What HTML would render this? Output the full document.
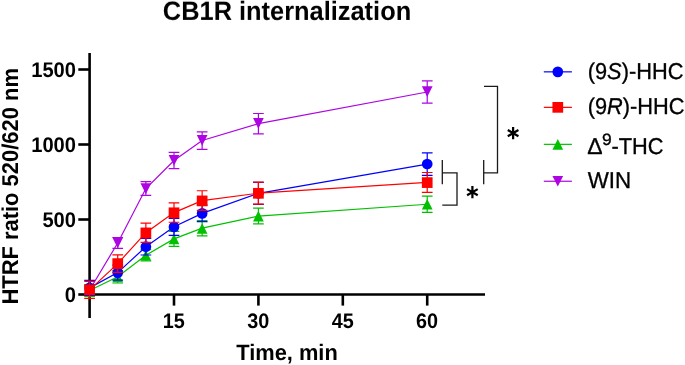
<!DOCTYPE html>
<html><head><meta charset="utf-8"><title>CB1R internalization</title>
<style>
html,body{margin:0;padding:0;background:#fff;}
body{width:685px;height:365px;overflow:hidden;}
svg{display:block;}
text{font-family:"Liberation Sans",sans-serif;fill:#000;}
</style></head><body>
<svg width="685" height="365" viewBox="0 0 685 365">
<rect width="685" height="365" fill="#fff"/>
<g>
<path d="M89.6 53V317.9" stroke="#000" stroke-width="2.6"/>
<path d="M88.3 294.5H485" stroke="#000" stroke-width="2.6"/>
<path d="M78.3 69.5H89.6" stroke="#000" stroke-width="2.6"/>
<path d="M78.3 144.5H89.6" stroke="#000" stroke-width="2.6"/>
<path d="M78.3 219.5H89.6" stroke="#000" stroke-width="2.6"/>
<path d="M78.3 294.5H89.6" stroke="#000" stroke-width="2.6"/>
<path d="M174.00 294.5V305.6" stroke="#000" stroke-width="2.6"/>
<path d="M258.41 294.5V305.6" stroke="#000" stroke-width="2.6"/>
<path d="M342.81 294.5V305.6" stroke="#000" stroke-width="2.6"/>
<path d="M427.22 294.5V305.6" stroke="#000" stroke-width="2.6"/>
</g>
<g>
<polyline points="89.60,290.00 117.73,242.95 145.87,188.50 174.00,160.55 202.14,140.55 258.41,123.70 427.22,92.00" fill="none" stroke="#AD04E2" stroke-width="1.2"/>
<path d="M89.60 285.00V295.00M84.25 285.00H94.95M84.25 295.00H94.95" stroke="#AD04E2" stroke-width="1.2" fill="none"/>
<path d="M84.25 284.95H94.95L89.60 295.65Z" fill="#AD04E2"/>
<path d="M117.73 237.50V248.40M112.38 237.50H123.08M112.38 248.40H123.08" stroke="#AD04E2" stroke-width="1.2" fill="none"/>
<path d="M112.38 237.45H123.08L117.73 248.15Z" fill="#AD04E2"/>
<path d="M145.87 181.70V195.30M140.52 181.70H151.22M140.52 195.30H151.22" stroke="#AD04E2" stroke-width="1.2" fill="none"/>
<path d="M140.52 183.25H151.22L145.87 193.95Z" fill="#AD04E2"/>
<path d="M174.00 152.40V168.70M168.66 152.40H179.35M168.66 168.70H179.35" stroke="#AD04E2" stroke-width="1.2" fill="none"/>
<path d="M168.66 154.95H179.35L174.00 165.65Z" fill="#AD04E2"/>
<path d="M202.14 131.80V149.30M196.79 131.80H207.49M196.79 149.30H207.49" stroke="#AD04E2" stroke-width="1.2" fill="none"/>
<path d="M196.79 134.95H207.49L202.14 145.65Z" fill="#AD04E2"/>
<path d="M258.41 113.50V133.90M253.06 113.50H263.76M253.06 133.90H263.76" stroke="#AD04E2" stroke-width="1.2" fill="none"/>
<path d="M253.06 118.05H263.76L258.41 128.75Z" fill="#AD04E2"/>
<path d="M427.22 80.80V103.20M421.87 80.80H432.57M421.87 103.20H432.57" stroke="#AD04E2" stroke-width="1.2" fill="none"/>
<path d="M421.87 86.35H432.57L427.22 97.05Z" fill="#AD04E2"/>
<polyline points="89.60,290.50 117.73,276.80 145.87,255.20 174.00,238.90 202.14,228.20 258.41,216.05 427.22,204.25" fill="none" stroke="#00C000" stroke-width="1.2"/>
<path d="M89.60 284.60V296.40M84.25 284.60H94.95M84.25 296.40H94.95" stroke="#00C000" stroke-width="1.2" fill="none"/>
<path d="M84.25 295.85H94.95L89.60 285.15Z" fill="#00C000"/>
<path d="M117.73 270.60V283.00M112.38 270.60H123.08M112.38 283.00H123.08" stroke="#00C000" stroke-width="1.2" fill="none"/>
<path d="M112.38 282.15H123.08L117.73 271.45Z" fill="#00C000"/>
<path d="M145.87 249.60V260.80M140.52 249.60H151.22M140.52 260.80H151.22" stroke="#00C000" stroke-width="1.2" fill="none"/>
<path d="M140.52 260.55H151.22L145.87 249.85Z" fill="#00C000"/>
<path d="M174.00 231.40V246.40M168.66 231.40H179.35M168.66 246.40H179.35" stroke="#00C000" stroke-width="1.2" fill="none"/>
<path d="M168.66 244.35H179.35L174.00 233.65Z" fill="#00C000"/>
<path d="M202.14 220.60V235.80M196.79 220.60H207.49M196.79 235.80H207.49" stroke="#00C000" stroke-width="1.2" fill="none"/>
<path d="M196.79 233.85H207.49L202.14 223.15Z" fill="#00C000"/>
<path d="M258.41 208.20V223.90M253.06 208.20H263.76M253.06 223.90H263.76" stroke="#00C000" stroke-width="1.2" fill="none"/>
<path d="M253.06 221.40H263.76L258.41 210.70Z" fill="#00C000"/>
<path d="M427.22 196.10V212.40M421.87 196.10H432.57M421.87 212.40H432.57" stroke="#00C000" stroke-width="1.2" fill="none"/>
<path d="M421.87 209.60H432.57L427.22 198.90Z" fill="#00C000"/>
<polyline points="89.60,287.90 117.73,272.60 145.87,246.70 174.00,226.80 202.14,213.40 258.41,193.30 427.22,164.10" fill="none" stroke="#0000FF" stroke-width="1.2"/>
<path d="M89.60 280.30V295.50M84.25 280.30H94.95M84.25 295.50H94.95" stroke="#0000FF" stroke-width="1.2" fill="none"/>
<circle cx="89.60" cy="287.90" r="5.35" fill="#0000FF"/>
<path d="M117.73 265.10V280.10M112.38 265.10H123.08M112.38 280.10H123.08" stroke="#0000FF" stroke-width="1.2" fill="none"/>
<circle cx="117.73" cy="272.60" r="5.35" fill="#0000FF"/>
<path d="M145.87 238.40V255.00M140.52 238.40H151.22M140.52 255.00H151.22" stroke="#0000FF" stroke-width="1.2" fill="none"/>
<circle cx="145.87" cy="246.70" r="5.35" fill="#0000FF"/>
<path d="M174.00 218.30V235.30M168.66 218.30H179.35M168.66 235.30H179.35" stroke="#0000FF" stroke-width="1.2" fill="none"/>
<circle cx="174.00" cy="226.90" r="5.35" fill="#0000FF"/>
<path d="M202.14 205.10V221.70M196.79 205.10H207.49M196.79 221.70H207.49" stroke="#0000FF" stroke-width="1.2" fill="none"/>
<circle cx="202.14" cy="213.40" r="5.35" fill="#0000FF"/>
<path d="M258.41 182.30V204.30M253.06 182.30H263.76M253.06 204.30H263.76" stroke="#0000FF" stroke-width="1.2" fill="none"/>
<circle cx="258.41" cy="193.30" r="5.35" fill="#0000FF"/>
<path d="M427.22 152.80V175.40M421.87 152.80H432.57M421.87 175.40H432.57" stroke="#0000FF" stroke-width="1.2" fill="none"/>
<circle cx="427.22" cy="164.00" r="5.35" fill="#0000FF"/>
<polyline points="89.60,289.85 117.73,263.60 145.87,232.70 174.00,212.60 202.14,200.60 258.41,193.20 427.22,182.40" fill="none" stroke="#FF0000" stroke-width="1.2"/>
<path d="M89.60 281.35V298.35M84.25 281.35H94.95M84.25 298.35H94.95" stroke="#FF0000" stroke-width="1.2" fill="none"/>
<rect x="84.25" y="284.50" width="10.7" height="10.7" fill="#FF0000"/>
<path d="M117.73 254.90V272.30M112.38 254.90H123.08M112.38 272.30H123.08" stroke="#FF0000" stroke-width="1.2" fill="none"/>
<rect x="112.38" y="258.25" width="10.7" height="10.7" fill="#FF0000"/>
<path d="M145.87 223.10V242.30M140.52 223.10H151.22M140.52 242.30H151.22" stroke="#FF0000" stroke-width="1.2" fill="none"/>
<rect x="140.52" y="227.55" width="10.7" height="10.7" fill="#FF0000"/>
<path d="M174.00 202.95V222.25M168.66 202.95H179.35M168.66 222.25H179.35" stroke="#FF0000" stroke-width="1.2" fill="none"/>
<rect x="168.66" y="207.45" width="10.7" height="10.7" fill="#FF0000"/>
<path d="M202.14 190.75V210.45M196.79 190.75H207.49M196.79 210.45H207.49" stroke="#FF0000" stroke-width="1.2" fill="none"/>
<rect x="196.79" y="195.55" width="10.7" height="10.7" fill="#FF0000"/>
<path d="M258.41 182.20V204.20M253.06 182.20H263.76M253.06 204.20H263.76" stroke="#FF0000" stroke-width="1.2" fill="none"/>
<rect x="253.06" y="187.95" width="10.7" height="10.7" fill="#FF0000"/>
<path d="M427.22 172.50V192.30M421.87 172.50H432.57M421.87 192.30H432.57" stroke="#FF0000" stroke-width="1.2" fill="none"/>
<rect x="421.87" y="177.25" width="10.7" height="10.7" fill="#FF0000"/>
</g>
<path d="M442.3 159.9V184.2M442.3 172.9H457V205.2H442.3M483.7 159.9V184.2M483.7 172.9H497.5V86.4H484" fill="none" stroke="#1a1a1a" stroke-width="1.3"/>
<g>
<path d="M543.8 71.85H571.9" stroke="#0000FF" stroke-width="1.2"/>
<circle cx="557.80" cy="71.85" r="5.35" fill="#0000FF"/>
<path d="M543.8 107.35H571.9" stroke="#FF0000" stroke-width="1.2"/>
<rect x="552.45" y="102.00" width="10.7" height="10.7" fill="#FF0000"/>
<path d="M543.8 144.35H571.9" stroke="#00C000" stroke-width="1.2"/>
<path d="M552.45 149.70H563.15L557.80 139.00Z" fill="#00C000"/>
<path d="M543.8 181.25H571.9" stroke="#AD04E2" stroke-width="1.2"/>
<path d="M552.45 175.90H563.15L557.80 186.60Z" fill="#AD04E2"/>
</g>
<g opacity="0.999" text-rendering="geometricPrecision">
<text transform="translate(287 19.8) rotate(0.02) scale(1.0 1.04)" font-size="25.4" font-weight="bold" text-anchor="middle">CB1R internalization</text>
<text transform="translate(287.0 359.85) rotate(0.02) scale(1.0 1.02)" font-size="21.85" font-weight="bold" text-anchor="middle">Time, min</text>
<text transform="translate(76.0 77.0) rotate(0.02) scale(0.95 1)" font-size="21.2" font-weight="bold" text-anchor="end">1500</text>
<text transform="translate(76.0 152.0) rotate(0.02) scale(0.95 1)" font-size="21.2" font-weight="bold" text-anchor="end">1000</text>
<text transform="translate(76.0 227.0) rotate(0.02) scale(0.95 1)" font-size="21.2" font-weight="bold" text-anchor="end">500</text>
<text transform="translate(76.0 302.0) rotate(0.02) scale(0.95 1)" font-size="21.2" font-weight="bold" text-anchor="end">0</text>
<text transform="translate(173.85 327.7) rotate(0.02) scale(0.935 0.99)" font-size="21.2" font-weight="bold" text-anchor="middle">15</text>
<text transform="translate(258.26 327.7) rotate(0.02) scale(0.935 0.99)" font-size="21.2" font-weight="bold" text-anchor="middle">30</text>
<text transform="translate(342.67 327.7) rotate(0.02) scale(0.935 0.99)" font-size="21.2" font-weight="bold" text-anchor="middle">45</text>
<text transform="translate(427.07 327.7) rotate(0.02) scale(0.935 0.99)" font-size="21.2" font-weight="bold" text-anchor="middle">60</text>
<text transform="translate(17.8 186.35) rotate(-89.98) scale(1.0 1.04)" font-size="21.95" font-weight="bold" text-anchor="middle">HTRF ratio 520/620 nm</text>
<text transform="translate(587.7 78.9) rotate(0.02) scale(1.0 1.05)" font-size="21.8" stroke="#000" stroke-width="0.3" text-anchor="start">(9<tspan font-style="italic">S</tspan>)-HHC</text>
<text transform="translate(587.7 114.4) rotate(0.02) scale(1.0 1.05)" font-size="21.8" stroke="#000" stroke-width="0.3" text-anchor="start">(9<tspan font-style="italic">R</tspan>)-HHC</text>
<text transform="translate(587.2 153.6) rotate(0.02) scale(1.0 1.05)" font-size="21.8" stroke="#000" stroke-width="0.3" text-anchor="start"><tspan textLength="15.36" lengthAdjust="spacingAndGlyphs">Δ</tspan><tspan font-size="15.6" dx="-0.56" dy="-8.62" textLength="9.72" lengthAdjust="spacingAndGlyphs">9</tspan><tspan dx="-0.3" dy="8.62">-THC</tspan></text>
<text transform="translate(587.7 187.9) rotate(0.02) scale(1.025 1.05)" font-size="21.8" stroke="#000" stroke-width="0.3" text-anchor="start">WIN</text>
<path d="M472.4 186.04999999999998V198.35M467.07 189.12L477.73 195.27M467.07 195.27L477.73 189.12" stroke="#000" stroke-width="2.25" fill="none"/>
<path d="M513.1 126.94999999999999V139.25M507.77 130.03L518.43 136.17M507.77 136.17L518.43 130.03" stroke="#000" stroke-width="2.25" fill="none"/>
</g>
</svg>
</body></html>
